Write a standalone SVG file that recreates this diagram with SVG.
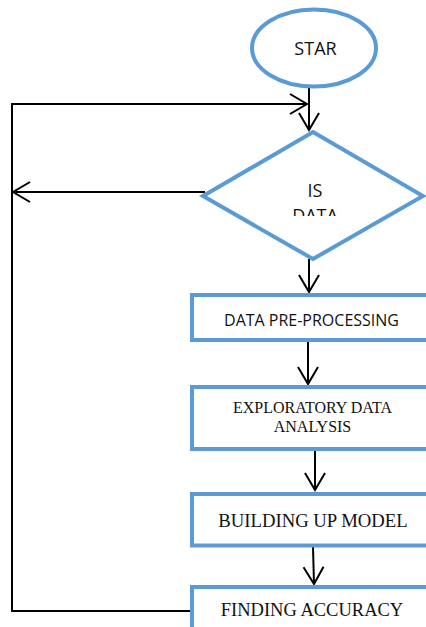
<svg xmlns="http://www.w3.org/2000/svg" width="426" height="627" viewBox="0 0 426 627">
  <style>
    .shape { fill: #ffffff; stroke: #5b9bd5; stroke-width: 4; }
    .conn { fill: none; stroke: #000000; stroke-width: 2; }
    .sans { font-family: "Open Sans", "Liberation Sans", sans-serif; fill: #111111; text-anchor: middle; }
    .serif { font-family: "Liberation Serif", "Times New Roman", serif; fill: #111111; text-anchor: middle; }
  </style>
  <defs>
    <marker id="arrow" viewBox="-19 -12 21 24" markerWidth="21" markerHeight="24" refX="0" refY="0" markerUnits="userSpaceOnUse" orient="auto">
      <path d="M -17 -10 L 0 0 L -17 10" fill="none" stroke="#000000" stroke-width="2"/>
    </marker>
    <clipPath id="decision-clip">
      <rect x="250" y="165" width="130" height="51"/>
    </clipPath>
  </defs>

  <rect x="0" y="0" width="426" height="627" fill="#ffffff"/>

  <g id="connectors">
    <path class="conn" d="M309 88 L309 130" marker-end="url(#arrow)"/>
    <path class="conn" d="M193 611 L12 611 L12 104 L307 104" marker-end="url(#arrow)"/>
    <path class="conn" d="M205 192 L13 192" marker-end="url(#arrow)"/>
    <path class="conn" d="M309 259 L309 292" marker-end="url(#arrow)"/>
    <path class="conn" d="M308 341 L308 384" marker-end="url(#arrow)"/>
    <path class="conn" d="M315 451 L315 490" marker-end="url(#arrow)"/>
    <path class="conn" d="M313 547 L314 584" marker-end="url(#arrow)"/>
  </g>

  <g id="start">
    <ellipse class="shape" cx="314" cy="48" rx="62" ry="38.5"/>
    <text class="sans" x="315.5" y="55" font-size="18">STAR</text>
  </g>

  <g id="decision">
    <polygon class="shape" points="313,132 423,196 313,259 203,196"/>
    <g clip-path="url(#decision-clip)">
      <text class="sans" x="315" y="197" font-size="18">IS</text>
      <text class="sans" x="315" y="222" font-size="18">DATA</text>
    </g>
  </g>

  <g id="preprocessing">
    <rect class="shape" x="192" y="295" width="240" height="45"/>
    <text class="sans" x="311.5" y="326" font-size="16">DATA PRE-PROCESSING</text>
  </g>

  <g id="eda">
    <rect class="shape" x="192" y="387" width="240" height="62"/>
    <text class="serif" x="312.5" y="413" font-size="16">EXPLORATORY DATA</text>
    <text class="serif" x="312.5" y="432" font-size="16">ANALYSIS</text>
  </g>

  <g id="model">
    <rect class="shape" x="192" y="494" width="240" height="51.5"/>
    <text class="serif" x="313" y="527" font-size="18.7">BUILDING UP MODEL</text>
  </g>

  <g id="accuracy">
    <rect class="shape" x="192" y="587" width="240" height="60"/>
    <text class="serif" x="312" y="616" font-size="18.5">FINDING ACCURACY</text>
  </g>
</svg>
